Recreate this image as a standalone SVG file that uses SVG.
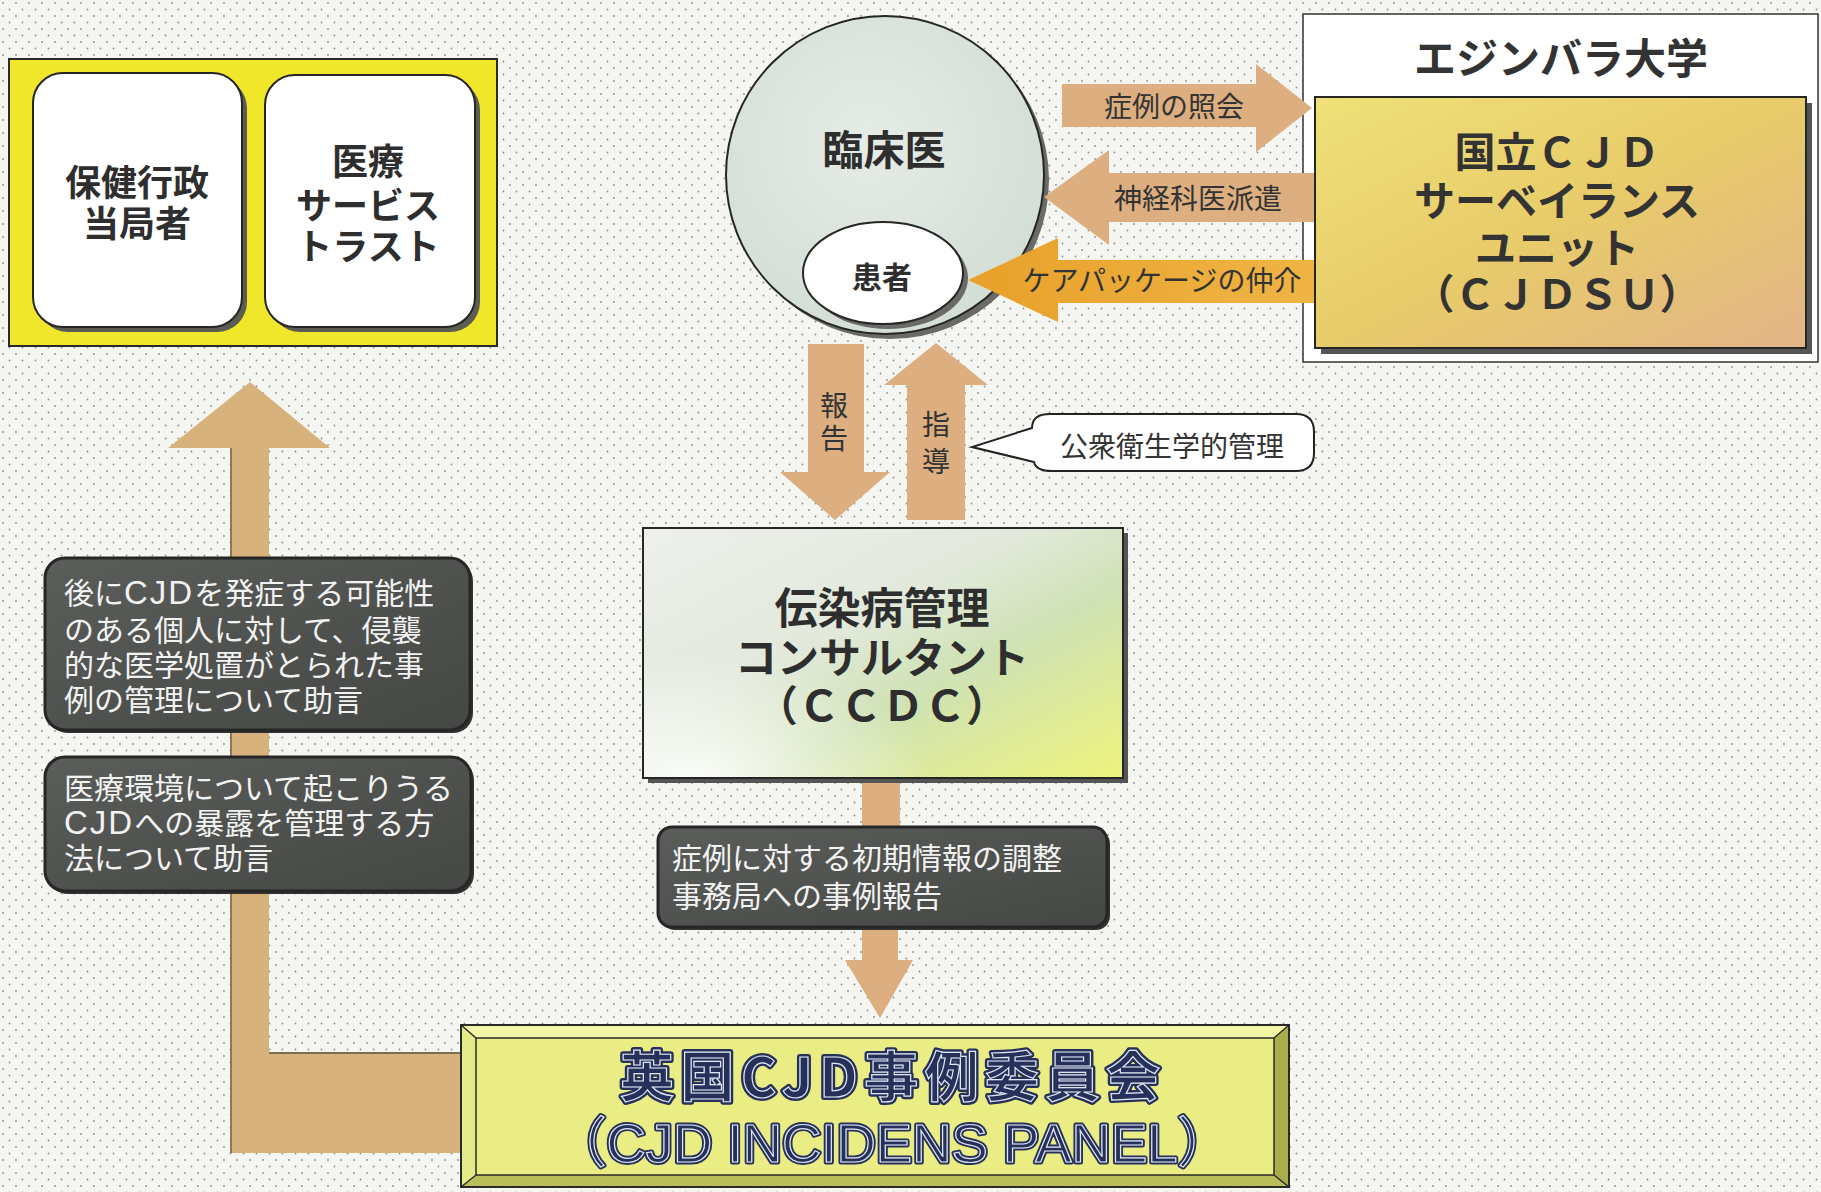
<svg xmlns="http://www.w3.org/2000/svg" width="1821" height="1192" viewBox="0 0 1821 1192">
<defs>
<pattern id="dots" width="13" height="13" patternUnits="userSpaceOnUse">
<rect width="13" height="13" fill="#f5f6f2"/>
<circle cx="3" cy="3" r="0.9" fill="#8e918c"/>
<circle cx="9.5" cy="9.5" r="0.9" fill="#8e918c"/>
</pattern>
<radialGradient id="circleGrad" cx="0.45" cy="0.4" r="0.65">
<stop offset="0" stop-color="#e6ece6"/>
<stop offset="1" stop-color="#d2ddd4"/>
</radialGradient>
<linearGradient id="cjdsuGrad" x1="0" y1="0" x2="1" y2="1">
<stop offset="0" stop-color="#efe178"/>
<stop offset="0.5" stop-color="#e8cb6a"/>
<stop offset="1" stop-color="#e2b488"/>
</linearGradient>
<linearGradient id="ccdcGrad" x1="0" y1="0" x2="1" y2="1">
<stop offset="0" stop-color="#eef0ec"/>
<stop offset="0.4" stop-color="#e2e9dc"/>
<stop offset="0.62" stop-color="#cfe2b4"/>
<stop offset="1" stop-color="#eef37c"/>
</linearGradient>
<radialGradient id="ccdcWhite" cx="0.1" cy="1" r="0.5">
<stop offset="0" stop-color="#ffffff" stop-opacity="0.9"/>
<stop offset="1" stop-color="#ffffff" stop-opacity="0"/>
</radialGradient>
<linearGradient id="grayGrad" x1="0" y1="0" x2="1" y2="1">
<stop offset="0" stop-color="#5a5d59"/>
<stop offset="1" stop-color="#444744"/>
</linearGradient>
<linearGradient id="orangeGrad" x1="0" y1="0" x2="1" y2="0">
<stop offset="0" stop-color="#e8a12a"/>
<stop offset="1" stop-color="#efb445"/>
</linearGradient>
<style>
.jp{font-family:"Liberation Sans","Noto Sans CJK JP","Noto Sans CJK SC",sans-serif;}
.bold{font-weight:bold;}
.dark{fill:#2e2e2e;}
.lbl{font-family:"Liberation Sans","Noto Sans CJK JP",sans-serif;font-size:28px;fill:#333;text-anchor:middle;}
.wt{font-family:"Liberation Sans","Noto Sans CJK JP",sans-serif;font-size:30px;fill:#f2f2f2;}
.cjd{font-size:33px;letter-spacing:2px;}
.tan{fill:#dcae80;}
.tan2{fill:#d8b27c;}
.box{stroke:#262626;stroke-width:2;}
.shadow{fill:#5c5c52;}
.gray{fill:url(#grayGrad);stroke:#262626;stroke-width:3;}
.panelText{font-family:"Noto Sans CJK JP",sans-serif;font-weight:bold;text-anchor:middle;}
.latin{font-family:"Liberation Sans","Noto Sans CJK JP",sans-serif;font-weight:normal;}
</style>
</defs>

<rect x="0" y="0" width="1821" height="1192" fill="url(#dots)"/>

<!-- Yellow frame with two bodies -->
<g id="yellow-frame">
<rect x="9" y="59" width="488" height="287" fill="#f0e62a" stroke="#2a2a2a" stroke-width="2"/>
</g>
<g id="health-authority">
<rect x="38" y="78" width="209" height="254" rx="30" class="shadow"/>
<rect x="33" y="73" width="209" height="254" rx="30" fill="#ffffff" class="box"/>
<text class="jp bold dark" font-size="36" text-anchor="middle"><tspan x="137" y="196">保健行政</tspan><tspan x="137" y="237">当局者</tspan></text>
</g>
<g id="health-trust">
<rect x="270" y="80" width="210" height="252" rx="30" class="shadow"/>
<rect x="265" y="75" width="210" height="252" rx="30" fill="#ffffff" class="box"/>
<text class="jp bold dark" font-size="36" text-anchor="middle"><tspan x="368" y="175">医療</tspan><tspan x="368" y="219">サービス</tspan><tspan x="368" y="260">トラスト</tspan></text>
</g>

<!-- Edinburgh University container -->
<g id="edinburgh">
<rect x="1303" y="14" width="515" height="348" fill="#ffffff" stroke="#333" stroke-width="1.5"/>
<text class="jp bold" fill="#333" font-size="42" text-anchor="middle" x="1561" y="74">エジンバラ大学</text>
</g>

<!-- Clinician -->
<g id="clinician">
<circle cx="890" cy="180" r="159" fill="#6a6a66"/>
<circle cx="885" cy="175" r="159" fill="url(#circleGrad)" class="box"/>
<text class="jp bold dark" font-size="41" text-anchor="middle" x="884" y="165">臨床医</text>
</g>
<g id="patient">
<ellipse cx="888" cy="278" rx="80" ry="51" fill="#6a6a66"/>
<ellipse cx="883" cy="273" rx="80" ry="51" fill="#ffffff" class="box"/>
<text class="jp bold dark" font-size="30" text-anchor="middle" x="882" y="288">患者</text>
</g>

<!-- Connectors -->
<g id="connectors">
<!-- case referral: clinician -> CJDSU -->
<polygon class="tan" points="1062,84 1256,84 1256,64 1312,108 1256,152 1256,127 1062,127"/>
<text class="lbl" font-size="30" x="1174" y="117">症例の照会</text>
<!-- neurologist dispatch: CJDSU -> clinician -->
<polygon class="tan" points="1318,173 1109,173 1109,150 1044,197 1109,245 1109,222 1318,222"/>
<text class="lbl" font-size="30" x="1198" y="209">神経科医派遣</text>
<!-- care package: CJDSU -> patient -->
<polygon fill="url(#orangeGrad)" points="1318,260 1058,260 1058,238 968,280 1058,322 1058,303 1318,303"/>
<text class="lbl" font-size="27" x="1162" y="291">ケアパッケージの仲介</text>
<!-- report: clinician -> CCDC -->
<polygon class="tan" points="808,344 864,344 864,472 890,472 835,520 780,472 808,472"/>
<text class="lbl"><tspan x="834" y="416">報</tspan><tspan x="834" y="449">告</tspan></text>
<!-- guidance: CCDC -> clinician -->
<polygon class="tan" points="936,343 988,385 965,385 965,520 907,520 907,385 884,385"/>
<text class="lbl"><tspan x="936" y="435">指</tspan><tspan x="936" y="472">導</tspan></text>
<!-- CCDC -> panel -->
<rect class="tan" x="862" y="776" width="38" height="54"/>
<polygon class="tan" points="862,924 898,924 898,960 913,960 880,1018 845,960 862,960"/>
<!-- panel -> health bodies -->
<polygon class="tan2" points="250,382 330,448 269,448 269,1053 462,1053 462,1153 231,1153 231,448 168,448"/>
<line x1="231" y1="448" x2="231" y2="1153" stroke="#8a7a5a" stroke-width="2"/>
<line x1="269" y1="1053" x2="462" y2="1053" stroke="#7a7050" stroke-width="2"/>
</g>

<!-- CJDSU -->
<g id="cjdsu">
<rect x="1321" y="103" width="491" height="251" fill="#555"/>
<rect x="1315" y="97" width="491" height="251" fill="url(#cjdsuGrad)" class="box"/>
<text class="jp bold" fill="#333" font-size="41" text-anchor="middle"><tspan x="1557" y="167">国立ＣＪＤ</tspan><tspan x="1557" y="216">サーベイランス</tspan><tspan x="1557" y="263">ユニット</tspan><tspan x="1557" y="309">（ＣＪＤＳＵ）</tspan></text>
</g>

<!-- Public health management callout -->
<g id="callout">
<path d="M 1050 414 H 1296 Q 1314 414 1314 432 V 453 Q 1314 471 1296 471 H 1052 Q 1036 471 1034 462 L 972 447 L 1032 428 Q 1032 414 1050 414 Z" fill="#ffffff" stroke="#222" stroke-width="2"/>
<text class="lbl" x="1172" y="457">公衆衛生学的管理</text>
</g>

<!-- CCDC -->
<g id="ccdc">
<rect x="648" y="533" width="480" height="250" fill="#555"/>
<rect x="643" y="528" width="480" height="250" fill="url(#ccdcGrad)"/>
<rect x="643" y="528" width="480" height="250" fill="url(#ccdcWhite)" class="box"/>
<text class="jp bold dark" text-anchor="middle"><tspan x="882" y="624" font-size="43">伝染病管理</tspan><tspan x="882" y="673" font-size="42">コンサルタント</tspan><tspan x="882" y="721" font-size="42">（ＣＣＤＣ）</tspan></text>
</g>

<!-- Initial information -->
<g id="initial-info">
<rect x="661" y="830" width="449" height="100" rx="14" fill="#333"/>
<rect x="658" y="827" width="449" height="100" rx="14" class="gray"/>
<text class="wt" font-size="32"><tspan x="672" y="869">症例に対する初期情報の調整</tspan><tspan x="672" y="907">事務局への事例報告</tspan></text>
</g>

<!-- Advice boxes -->
<g id="advice-invasive">
<rect x="48" y="561" width="425" height="172" rx="20" fill="#333"/>
<rect x="45" y="558" width="425" height="172" rx="20" class="gray"/>
<text class="wt"><tspan x="64" y="604">後に<tspan class="cjd">CJD</tspan>を発症する可能性</tspan><tspan x="64" y="641">のある個人に対して、侵襲</tspan><tspan x="64" y="676">的な医学処置がとられた事</tspan><tspan x="64" y="711">例の管理について助言</tspan></text>
</g>
<g id="advice-exposure">
<rect x="48" y="760" width="426" height="134" rx="20" fill="#333"/>
<rect x="45" y="757" width="426" height="134" rx="20" class="gray"/>
<text class="wt"><tspan x="64" y="799">医療環境について起こりうる</tspan><tspan x="64" y="834"><tspan class="cjd">CJD</tspan>への暴露を管理する方</tspan><tspan x="64" y="869">法について助言</tspan></text>
</g>

<!-- UK CJD Incidents Panel -->
<g id="panel">
<rect x="461" y="1025" width="828" height="162" fill="#e9ed84"/>
<polygon points="461,1025 1289,1025 1274,1038 476,1038" fill="#f3f6a6"/>
<polygon points="461,1025 476,1038 476,1175 461,1187" fill="#e4e98a"/>
<polygon points="1289,1025 1289,1187 1274,1175 1274,1038" fill="#a9ae4a"/>
<polygon points="461,1187 1289,1187 1274,1175 476,1175" fill="#b9be5a"/>
<rect x="461" y="1025" width="828" height="162" fill="none" stroke="#2a2a2a" stroke-width="2"/>
<rect x="476" y="1038" width="798" height="137" fill="none" stroke="#2a2a2a" stroke-width="1.5"/>
<line x1="461" y1="1025" x2="476" y2="1038" stroke="#2a2a2a" stroke-width="1.5"/>
<line x1="1289" y1="1025" x2="1274" y2="1038" stroke="#2a2a2a" stroke-width="1.5"/>
<line x1="461" y1="1187" x2="476" y2="1175" stroke="#2a2a2a" stroke-width="1.5"/>
<line x1="1289" y1="1187" x2="1274" y2="1175" stroke="#2a2a2a" stroke-width="1.5"/>
<g fill="#27305a" stroke-linejoin="round">
<text class="panelText" font-size="54" x="890" y="1097" textLength="540" lengthAdjust="spacing" stroke="#27305a" stroke-width="6">英国CJD事例委員会</text>
<text class="panelText latin" font-size="54" x="892" y="1162" textLength="680" lengthAdjust="spacingAndGlyphs" stroke="#27305a" stroke-width="5">（CJD INCIDENS PANEL）</text>
</g>
<g fill="#27305a" stroke="#dfe8f2" stroke-width="1.2">
<text class="panelText" font-size="54" x="890" y="1097" textLength="540" lengthAdjust="spacing">英国CJD事例委員会</text>
<text class="panelText latin" font-size="54" x="892" y="1162" textLength="680" lengthAdjust="spacingAndGlyphs">（CJD INCIDENS PANEL）</text>
</g>
</g>
</svg>
